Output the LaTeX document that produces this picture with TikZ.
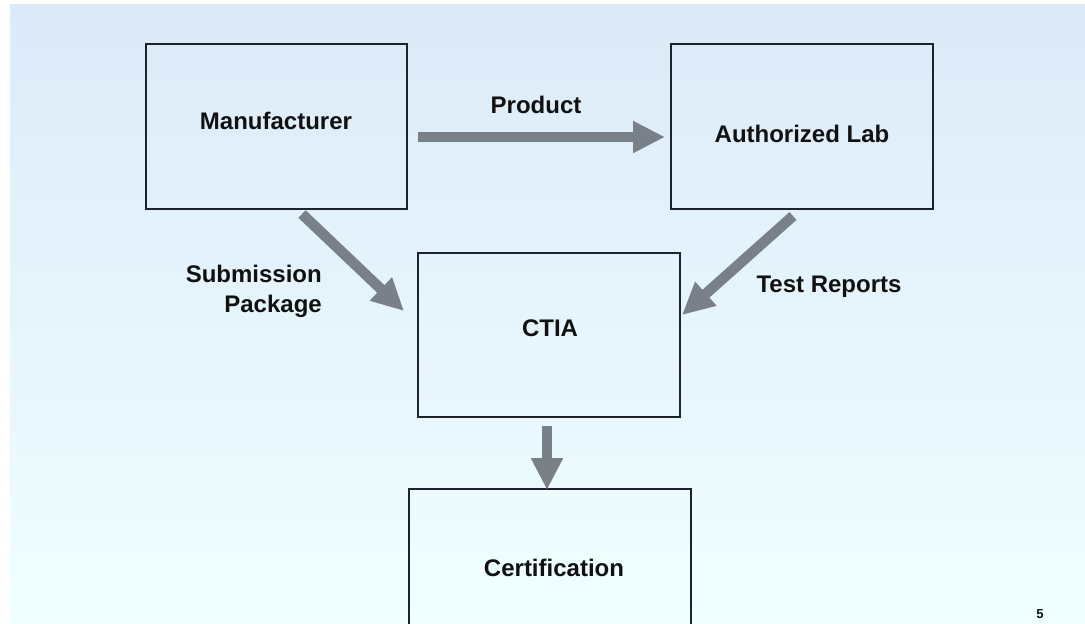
\documentclass[tikz,border=0pt]{standalone}
\usepackage{fontspec}
\setmainfont{Liberation Sans}
\usetikzlibrary{arrows.meta}
\definecolor{bgtop}{HTML}{DCEAF8}
\definecolor{bgbot}{HTML}{F0FFFF}
\definecolor{arrowgray}{HTML}{7A8088}
\definecolor{boxline}{HTML}{1C2230}
\definecolor{txt}{HTML}{111111}
\tikzset{
  box/.style={draw=boxline, line width=2pt, rectangle, inner sep=0pt},
  lbl/.style={font=\fontsize{24}{30}\selectfont\bfseries, text=txt, inner sep=0pt},
  flow/.style={draw=arrowgray, line width=10.5pt, line cap=butt,
    -{Triangle[length=32pt,width=30pt]}},
}
\begin{document}
\begin{tikzpicture}[x=1pt,y=-1pt]
\useasboundingbox (0,0) rectangle (1085,624);
\fill[white] (0,0) rectangle (1085,624);
\shade[top color=bgtop, bottom color=bgbot] (10,4) rectangle (1085,624);

% boxes
\node[box, minimum width=261pt, minimum height=165pt] (man) at (276.5,126.5) {};
\node[box, minimum width=262pt, minimum height=165pt] (lab) at (802,126.5) {};
\node[box, minimum width=262pt, minimum height=164pt] (ctia) at (549,335) {};
\node[box, minimum width=282pt, minimum height=171pt] (cert) at (550,574.5) {};

% labels
\node[lbl] (manl) at (276,121) {Manufacturer};
\node[lbl] (labl) at (802,134) {Authorized Lab};
\node[lbl] (ctial) at (550,328) {CTIA};
\node[lbl] (certl) at (554,568) {Certification};
\node[lbl, anchor=base] (prodl) at (536,113) {Product};
\node[lbl, anchor=base] (testl) at (829,292) {Test Reports};
\node[lbl, align=right, anchor=base east] (subl) at (322,312) {Submission\\Package};
\node[font=\fontsize{13}{15}\selectfont\bfseries, text=txt, inner sep=0pt] (pagenum) at (1040,614) {5};

% connector end points
\coordinate (p1) at (418,137);
\coordinate (p2) at (665,137);
\coordinate (s1) at (302,214);
\coordinate (s2) at (404,311);
\coordinate (t1) at (793,216);
\coordinate (t2) at (682,315);
\coordinate (c1) at (547,426);
\coordinate (c2) at (547,490);

\draw[flow] (p1) -- (p2);
\draw[flow] (s1) -- (s2);
\draw[flow] (t1) -- (t2);
\draw[flow] (c1) -- (c2);
\end{tikzpicture}
\end{document}
